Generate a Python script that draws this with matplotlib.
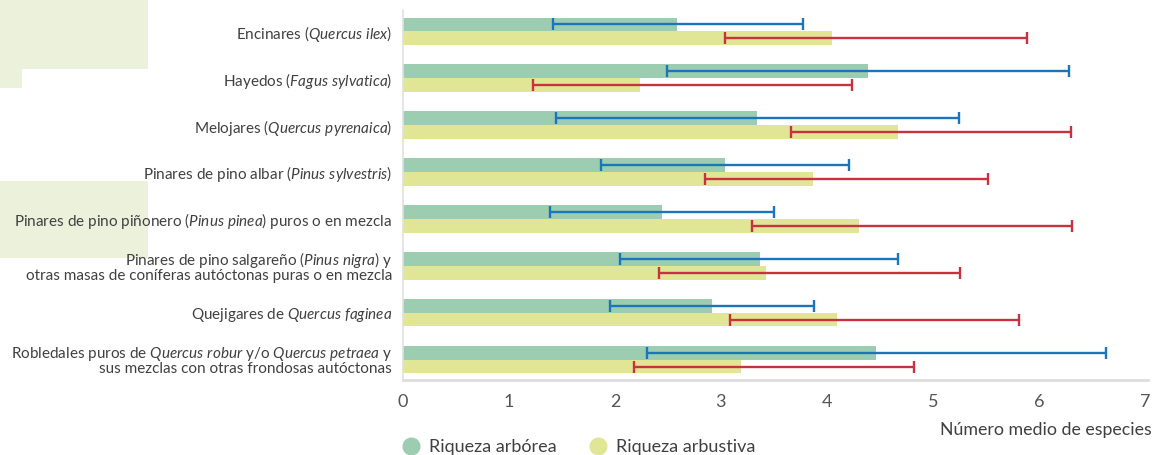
import matplotlib
matplotlib.use("Agg")
import matplotlib.pyplot as plt
import numpy as np
from matplotlib.lines import Line2D
from matplotlib.patches import Rectangle

plt.rcParams["font.family"] = ["Lato", "DejaVu Sans"]
plt.rcParams["mathtext.fontset"] = "custom"
plt.rcParams["mathtext.rm"] = "Lato"
plt.rcParams["mathtext.it"] = "Lato:italic"

categories = [
    r"Encinares ($\mathit{Quercus\ ilex}$)",
    r"Hayedos ($\mathit{Fagus\ sylvatica}$)",
    r"Melojares ($\mathit{Quercus\ pyrenaica}$)",
    r"Pinares de pino albar ($\mathit{Pinus\ sylvestris}$)",
    r"Pinares de pino piñonero ($\mathit{Pinus\ pinea}$) puros o en mezcla",
    "Pinares de pino salgareño ($\\mathit{Pinus\\ nigra}$) y\n"
    "otras masas de coníferas autóctonas puras o en mezcla",
    r"Quejigares de $\mathit{Quercus\ faginea}$",
    "Robledales puros de $\\mathit{Quercus\\ robur}$ y/o $\\mathit{Quercus\\ petraea}$ y\n"
    "sus mezclas con otras frondosas autóctonas",
]

# mean number of species and the ends of each error bar
arborea = [2.59, 4.39, 3.34, 3.04, 2.44, 3.37, 2.92, 4.46]
arborea_lo = [1.42, 2.49, 1.44, 1.87, 1.39, 2.05, 1.95, 2.30]
arborea_hi = [3.77, 6.28, 5.25, 4.21, 3.50, 4.67, 3.88, 6.63]

arbustiva = [4.05, 2.24, 4.67, 3.87, 4.30, 3.43, 4.10, 3.19]
arbustiva_lo = [3.04, 1.23, 3.66, 2.85, 3.29, 2.42, 3.09, 2.18]
arbustiva_hi = [5.89, 4.24, 6.30, 5.52, 6.31, 5.26, 5.81, 4.82]

GREEN = "#9dcdb0"
YELLOW = "#e1e696"
BLUE = "#1b75bb"
RED = "#c7323e"
BG = "#ecf1dc"
TXT = "#404040"

W, H = 1154, 455
fig = plt.figure(figsize=(W / 100, H / 100), dpi=100)

# pale decorative blocks behind the labels
for x0, y0, w, h in [(0, 0, 148, 69), (0, 69, 22, 19), (0, 181, 148, 77)]:
    fig.patches.append(Rectangle((x0 / W, 1 - (y0 + h) / H), w / W, h / H,
                                 transform=fig.transFigure, color=BG, lw=0, zorder=-5))

ax = fig.add_axes([403 / W, 1 - 380 / H, (1148 - 403) / W, 370 / H])
ax.patch.set_alpha(0)

y = np.arange(len(categories))
bh = 0.29
a = np.array(arborea)
b = np.array(arbustiva)
ax.barh(y - bh / 2, a, height=bh, color=GREEN, zorder=2)
ax.barh(y + bh / 2, b, height=bh, color=YELLOW, zorder=2)

err_a = [a - np.array(arborea_lo), np.array(arborea_hi) - a]
err_b = [b - np.array(arbustiva_lo), np.array(arbustiva_hi) - b]
ax.errorbar(a, y - bh / 2, xerr=err_a, fmt="none", ecolor=BLUE,
            elinewidth=1.7, capsize=4.5, capthick=1.7, zorder=3)
ax.errorbar(b, y + bh / 2, xerr=err_b, fmt="none", ecolor=RED,
            elinewidth=1.7, capsize=4.5, capthick=1.7, zorder=3)

ax.set_xlim(0, 7.03)
ax.set_ylim(len(categories) - 0.57, -0.45)
ax.set_xticks(range(8))
ax.set_yticks(y)
ax.set_yticklabels(categories, fontsize=11, color=TXT, ha="right",
                   multialignment="right", linespacing=0.85)
ax.tick_params(axis="x", length=0, labelsize=13, labelcolor="#555555", pad=10)
ax.tick_params(axis="y", length=0, pad=8)
for s in ["top", "right"]:
    ax.spines[s].set_visible(False)
ax.spines["left"].set_color("#e0e0e0")
ax.spines["left"].set_linewidth(1.2)
ax.spines["bottom"].set_color("#dddddd")
ax.spines["bottom"].set_linewidth(2)

fig.text(1152 / W, 1 - 430 / H, "Número medio de especies", ha="right",
         va="center", fontsize=12.8, color=TXT)

handles = [
    Line2D([], [], marker="o", ls="none", ms=12, color=GREEN, label="Riqueza arbórea"),
    Line2D([], [], marker="o", ls="none", ms=12, color=YELLOW, label="Riqueza arbustiva"),
]
fig.legend(handles=handles, loc="center left", bbox_to_anchor=(393 / W, 1 - 447 / H),
           ncol=2, frameon=False, fontsize=13, handletextpad=0.0,
           columnspacing=1.3, labelcolor=TXT, borderaxespad=0, borderpad=0)

fig.savefig("out.png", dpi=100)
